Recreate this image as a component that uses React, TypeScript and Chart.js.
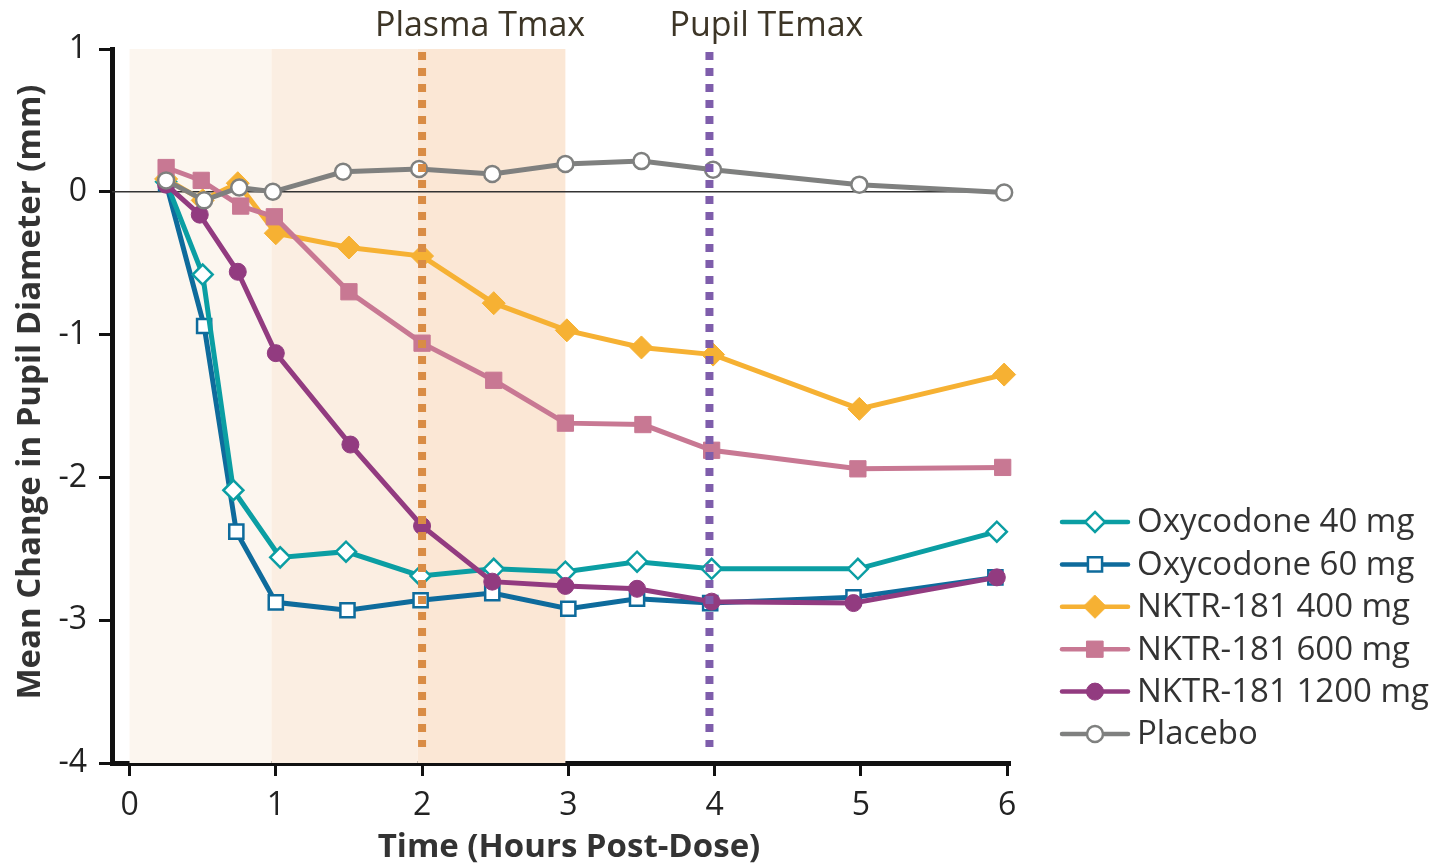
import React, { useEffect, useRef } from 'react';
import { Chart, registerables } from 'chart.js';

Chart.register(...registerables);

// ---- data ----
const xTicks = [0, 1, 2, 3, 4, 5, 6];
const yTicks = [1, 0, -1, -2, -3, -4];

const oxy40Times = [0.25, 0.5, 0.71, 1.03, 1.48, 1.99, 2.49, 2.98, 3.47, 3.98, 4.98, 5.93];
const oxy40 = [0.07, -0.58, -2.09, -2.56, -2.52, -2.69, -2.64, -2.66, -2.59, -2.64, -2.64, -2.38];

const oxy60Times = [0.25, 0.51, 0.73, 1.0, 1.49, 1.99, 2.48, 3.0, 3.47, 3.97, 4.95, 5.92];
const oxy60 = [0.06, -0.94, -2.38, -2.875, -2.93, -2.86, -2.81, -2.92, -2.85, -2.88, -2.84, -2.7];

const nktr400Times = [0.25, 0.5, 0.74, 1.0, 1.5, 2.0, 2.49, 2.99, 3.5, 3.99, 4.99, 5.98];
const nktr400 = [0.09, -0.06, 0.06, -0.29, -0.39, -0.45, -0.78, -0.97, -1.09, -1.14, -1.52, -1.28];

const nktr600Times = [0.25, 0.49, 0.76, 0.99, 1.5, 2.0, 2.49, 2.98, 3.51, 3.98, 4.98, 5.97];
const nktr600 = [0.17, 0.08, -0.1, -0.175, -0.7, -1.06, -1.32, -1.62, -1.63, -1.81, -1.94, -1.93];

const nktr1200Times = [0.25, 0.48, 0.74, 1.0, 1.51, 2.0, 2.48, 2.98, 3.47, 3.98, 4.95, 5.93];
const nktr1200 = [0.05, -0.16, -0.56, -1.13, -1.77, -2.34, -2.73, -2.76, -2.78, -2.87, -2.88, -2.7];

const placeboTimes = [0.25, 0.51, 0.75, 0.98, 1.46, 1.98, 2.48, 2.98, 3.5, 3.99, 4.99, 5.98];
const placebo = [0.08, -0.06, 0.03, 0.0, 0.14, 0.16, 0.125, 0.195, 0.215, 0.155, 0.05, -0.005];

const shadeBands = [
  [0, 0.97],
  [0.97, 1.97],
  [1.97, 2.98],
];
const plasmaTmax = 2.0;
const pupilTEmax = 3.965;

const FONT = "'Open Sans', 'Noto Sans', sans-serif";
const Y_TITLE = 'Mean Change in Pupil Diameter (mm)';
const X_TITLE = 'Time (Hours Post-Dose)';

type Series = {
  label: string;
  times: number[];
  values: number[];
  color: string;
  fill: string;
  pointStyle: 'circle' | 'rect' | 'rectRot';
  radius: number;
  pointBorder: number;
  order: number;
};

const series: Series[] = [
  { label: 'Oxycodone 40 mg', times: oxy40Times, values: oxy40, color: '#0b9ea3', fill: '#ffffff', pointStyle: 'rectRot', radius: 10, pointBorder: 2.5, order: 4 },
  { label: 'Oxycodone 60 mg', times: oxy60Times, values: oxy60, color: '#0e6b9c', fill: '#ffffff', pointStyle: 'rect', radius: 10, pointBorder: 2.5, order: 5 },
  { label: 'NKTR-181 400 mg', times: nktr400Times, values: nktr400, color: '#f6b133', fill: '#f6b133', pointStyle: 'rectRot', radius: 11.5, pointBorder: 1, order: 3 },
  { label: 'NKTR-181 600 mg', times: nktr600Times, values: nktr600, color: '#c87893', fill: '#c87893', pointStyle: 'rect', radius: 11.5, pointBorder: 1, order: 2 },
  { label: 'NKTR-181 1200 mg', times: nktr1200Times, values: nktr1200, color: '#923b80', fill: '#923b80', pointStyle: 'circle', radius: 8.5, pointBorder: 1, order: 1 },
  { label: 'Placebo', times: placeboTimes, values: placebo, color: '#7f807f', fill: '#ffffff', pointStyle: 'circle', radius: 8, pointBorder: 2.5, order: 0 },
];

function drawMarker(ctx: CanvasRenderingContext2D, s: Series, x: number, y: number) {
  ctx.save();
  ctx.beginPath();
  const r = s.radius;
  if (s.pointStyle === 'circle') {
    ctx.arc(x, y, r, 0, Math.PI * 2);
  } else if (s.pointStyle === 'rect') {
    const h = r * Math.SQRT1_2;
    ctx.rect(x - h, y - h, 2 * h, 2 * h);
  } else {
    ctx.moveTo(x, y - r);
    ctx.lineTo(x + r, y);
    ctx.lineTo(x, y + r);
    ctx.lineTo(x - r, y);
    ctx.closePath();
  }
  ctx.fillStyle = s.fill;
  ctx.fill();
  ctx.lineWidth = s.pointBorder;
  ctx.strokeStyle = s.color;
  ctx.stroke();
  ctx.restore();
}

const decorPlugin = {
  id: 'decor',
  beforeDatasetsDraw(chart: any) {
    const { ctx, chartArea, scales } = chart;
    const xs = scales.x;
    const ys = scales.y;
    const colors = ['#fcf6ef', '#fbeee2', '#fbe7d5'];
    ctx.save();
    shadeBands.forEach((b, i) => {
      const x0 = xs.getPixelForValue(b[0]);
      const x1 = xs.getPixelForValue(b[1]);
      ctx.fillStyle = colors[i];
      ctx.fillRect(x0, chartArea.top, x1 - x0, chartArea.bottom - chartArea.top);
    });
    const y0 = ys.getPixelForValue(0);
    ctx.beginPath();
    ctx.moveTo(chartArea.left, y0);
    ctx.lineTo(chartArea.right, y0);
    ctx.lineWidth = 1.5;
    ctx.strokeStyle = '#333333';
    ctx.stroke();
    ctx.restore();
  },
  afterDatasetsDraw(chart: any) {
    const { ctx, chartArea, scales } = chart;
    const xs = scales.x;
    const lines: [number, string][] = [
      [plasmaTmax, '#d98c45'],
      [pupilTEmax, '#7e5dab'],
    ];
    ctx.save();
    lines.forEach(([v, c]) => {
      const x = xs.getPixelForValue(v);
      ctx.beginPath();
      ctx.setLineDash([8, 8]);
      ctx.lineCap = 'butt';
      ctx.moveTo(x, chartArea.top + 3);
      ctx.lineTo(x, chartArea.bottom - 16);
      ctx.lineWidth = 8;
      ctx.strokeStyle = c;
      ctx.stroke();
    });
    ctx.setLineDash([]);
    ctx.font = `34px ${FONT}`;
    ctx.fillStyle = '#3d3526';
    ctx.textAlign = 'center';
    ctx.textBaseline = 'middle';
    ctx.fillText('Plasma Tmax', xs.getPixelForValue(plasmaTmax) + 58, 26);
    ctx.fillText('Pupil TEmax', xs.getPixelForValue(pupilTEmax) + 57, 26);
    ctx.restore();
  },
  afterDraw(chart: any) {
    const { ctx } = chart;
    // axis titles
    ctx.save();
    ctx.font = `bold 33px ${FONT}`;
    ctx.fillStyle = '#333333';
    ctx.textAlign = 'center';
    ctx.textBaseline = 'middle';
    ctx.fillText(X_TITLE, 569, 848);
    ctx.translate(31, 392);
    ctx.rotate(-Math.PI / 2);
    ctx.fillText(Y_TITLE, 0, 0);
    ctx.restore();

    // legend
    ctx.save();
    const startY = 522;
    const step = 42.4;
    series.forEach((s, i) => {
      const y = startY + i * step;
      ctx.beginPath();
      ctx.moveTo(1062, y);
      ctx.lineTo(1128, y);
      ctx.lineWidth = 4.5;
      ctx.lineCap = 'round';
      ctx.strokeStyle = s.color;
      ctx.stroke();
      drawMarker(ctx, s, 1095, y);
      ctx.font = `33px ${FONT}`;
      ctx.fillStyle = '#333333';
      ctx.textAlign = 'left';
      ctx.textBaseline = 'middle';
      ctx.fillText(s.label, 1137, y + 1);
    });
    ctx.restore();
  },
};

export default function App() {
  const canvasRef = useRef<HTMLCanvasElement | null>(null);

  useEffect(() => {
    if (!canvasRef.current) return;
    const chart = new Chart(canvasRef.current, {
      type: 'line',
      data: {
        datasets: series.map((s) => ({
          label: s.label,
          data: s.times.map((t, i) => ({ x: t, y: s.values[i] })),
          borderColor: s.color,
          backgroundColor: s.fill,
          borderWidth: 5,
          pointStyle: s.pointStyle,
          pointRadius: s.radius,
          pointHoverRadius: s.radius,
          pointBackgroundColor: s.fill,
          pointBorderColor: s.color,
          pointBorderWidth: s.pointBorder,
          tension: 0,
          clip: false as any,
          order: s.order,
        })),
      },
      options: {
        animation: false,
        responsive: true,
        maintainAspectRatio: false,
        events: [],
        layout: { padding: { top: 49, right: 432, bottom: 0, left: 0 } },
        plugins: {
          legend: { display: false },
          tooltip: { enabled: false },
        },
        scales: {
          x: {
            type: 'linear',
            min: -0.12,
            max: 6.02,
            afterBuildTicks: (s: any) => {
              s.ticks = xTicks.map((v) => ({ value: v }));
            },
            afterFit: (s: any) => {
              s.height = 102;
            },
            ticks: {
              font: { size: 32, family: FONT },
              color: '#222222',
              padding: 11,
              maxRotation: 0,
              autoSkip: false,
            },
            grid: {
              display: true,
              drawOnChartArea: false,
              drawTicks: true,
              tickLength: 13,
              tickWidth: 3,
              tickColor: '#111111',
            },
            border: { display: true, color: '#111111', width: 5 },
            title: { display: false },
          },
          y: {
            type: 'linear',
            min: -4,
            max: 1,
            afterBuildTicks: (s: any) => {
              s.ticks = yTicks.map((v) => ({ value: v }));
            },
            afterFit: (s: any) => {
              s.width = 112;
            },
            ticks: {
              font: { size: 32, family: FONT },
              color: '#222222',
              padding: 12,
              autoSkip: false,
            },
            grid: {
              display: true,
              drawOnChartArea: false,
              drawTicks: true,
              tickLength: 13,
              tickWidth: 3,
              tickColor: '#111111',
            },
            border: { display: true, color: '#111111', width: 5 },
            title: { display: false },
          },
        },
      },
      plugins: [decorPlugin],
    });
    return () => chart.destroy();
  }, []);

  return (
    <div style={{ position: 'fixed', left: 0, top: 0, width: '1442px', height: '865px' }}>
      <canvas ref={canvasRef} />
    </div>
  );
}
